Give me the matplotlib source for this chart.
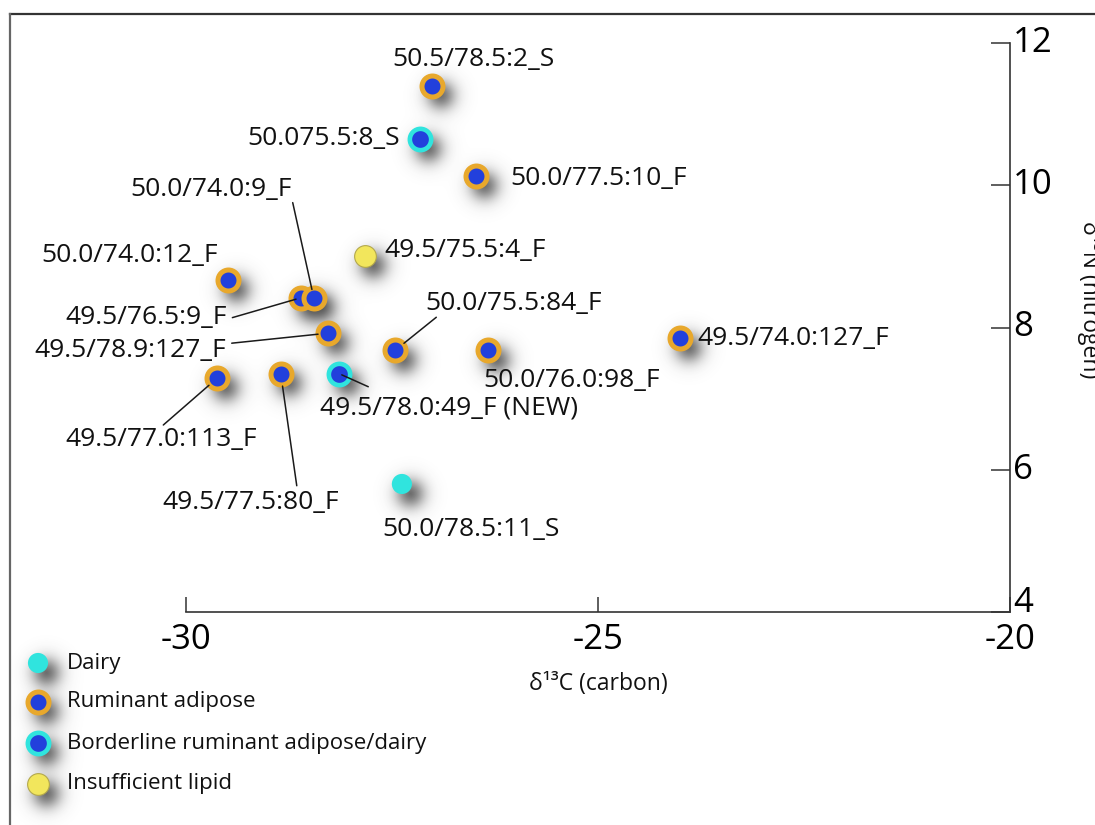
import matplotlib.pyplot as plt
import numpy as np

plt.rcParams["font.family"] = ["Open Sans", "DejaVu Sans"]

# isotope values per sample
sample_labels = [
    "50.5/78.5:2_S", "50.075.5:8_S", "50.0/77.5:10_F", "49.5/75.5:4_F",
    "50.0/74.0:12_F", "49.5/76.5:9_F", "50.0/74.0:9_F", "49.5/78.9:127_F",
    "50.0/75.5:84_F", "50.0/76.0:98_F", "49.5/74.0:127_F", "49.5/77.0:113_F",
    "49.5/77.5:80_F", "49.5/78.0:49_F (NEW)", "50.0/78.5:11_S",
]
carbon = [-27.01, -27.16, -26.48, -27.83, -29.49, -28.60, -28.45, -28.28,
          -27.46, -26.33, -24.00, -29.62, -28.85, -28.14, -27.38]
nitrogen = [11.40, 10.65, 10.13, 9.01, 8.67, 8.42, 8.42, 7.92,
            7.68, 7.68, 7.85, 7.29, 7.35, 7.35, 5.80]
groups = ["ruminant", "borderline", "ruminant", "lipid",
          "ruminant", "ruminant", "ruminant", "ruminant",
          "ruminant", "ruminant", "ruminant", "ruminant",
          "ruminant", "borderline", "dairy"]

legend_groups = ["dairy", "ruminant", "borderline", "lipid"]
legend_labels = ["Dairy", "Ruminant adipose",
                 "Borderline ruminant adipose/dairy", "Insufficient lipid"]

x_ticks = [-30, -25, -20]
y_ticks = [4, 6, 8, 10, 12]

# label placement: text offset (px), alignment, leader start offset (px), leader shrink (pt)
label_offsets = [(41, 26), (-20, 1), (34, -2), (20, 5), (-10, 24), (-75, -20),
                 (-22, 108), (-102, -17), (30, 47), (-5, -30), (17, 0),
                 (-152, -62), (-118, -129), (-19, -34), (-20, -46)]
label_ha = ["center", "right", "left", "left", "right", "right", "right", "right",
            "left", "left", "left", "left", "left", "left", "left"]
leaders = [None, None, None, None, None, ((-69, -20), 4), ((-21, 95), 6),
           ((-96, -10), 7), ((41, 33), 8), None, None, ((-54, -47), 8),
           ((16, -112), 9), ((29, -13), 2), None]

BLUE = "#2240DC"
ORANGE = "#E8A82C"
CYAN = "#30E4DE"
STYLE = {
    "ruminant": dict(s=228, c=BLUE, edgecolors=ORANGE, linewidths=3.6),
    "borderline": dict(s=235, c=BLUE, edgecolors=CYAN, linewidths=3.3),
    "dairy": dict(s=210, c=CYAN, edgecolors="none", linewidths=0),
    "lipid": dict(s=245, c="#F2E65C", edgecolors="#B3A84C", linewidths=0.8),
}

fig = plt.figure(figsize=(10.95, 8.25), dpi=100)
ax = fig.add_axes([186 / 1095, 1 - 612 / 825, 824 / 1095, 569 / 825])
ax.set_facecolor("none")
ax.set_xlim(-30, -20)
ax.set_ylim(4, 12)

for side in ["left", "top"]:
    ax.spines[side].set_visible(False)
ax.spines["bottom"].set_bounds(-30, -20)
ax.spines["right"].set_bounds(4, 12)
for side in ["bottom", "right"]:
    ax.spines[side].set_color("#333333")
    ax.spines[side].set_linewidth(1.2)

ax.set_xticks(x_ticks)
ax.set_xticklabels([str(v) for v in x_ticks])
ax.set_yticks(y_ticks)
ax.set_yticklabels([str(v) for v in y_ticks])
ax.yaxis.tick_right()
ax.tick_params(axis="x", direction="in", length=11, width=1.1, color="#333333",
               labelsize=25, pad=8)
ax.tick_params(axis="y", direction="in", length=14, width=1.1, color="#333333",
               labelsize=25, pad=2)
for lab, v in zip(ax.get_yticklabels(), y_ticks):
    # the bottom label sits on the axis line rather than centred on it
    lab.set_va("baseline" if v == 4 else "center")

for i, name in enumerate(sample_labels):
    ax.scatter([carbon[i]], [nitrogen[i]], zorder=3, **STYLE[groups[i]])
    ax.annotate(name, xy=(carbon[i], nitrogen[i]), xytext=label_offsets[i],
                textcoords="offset pixels", ha=label_ha[i], va="center",
                fontsize=19, color="#111111", zorder=4)
    if leaders[i] is not None:
        start, shrink = leaders[i]
        ax.annotate("", xy=(carbon[i], nitrogen[i]), xytext=start,
                    textcoords="offset pixels", zorder=4,
                    arrowprops=dict(arrowstyle="-", color="#1a1a1a", lw=1.1,
                                    shrinkA=0, shrinkB=shrink))

fig.text(598 / 1095, 1 - 684 / 825, "δ¹³C (carbon)", ha="center", va="center",
         fontsize=16.5, color="#111111")
fig.text(1077 / 1095, 1 - 300 / 825, "δ¹⁵N (nitrogen)", rotation=-90,
         ha="left", va="center", fontsize=16.5, color="#111111")

# overlay in pixel coordinates for the key and the outer frame
over = fig.add_axes([0, 0, 1, 1])
over.set_xlim(0, 1095)
over.set_ylim(825, 0)
over.axis("off")
over.set_facecolor("none")
key_y = [663, 702, 743, 784]
for g, text, y in zip(legend_groups, legend_labels, key_y):
    over.scatter([38], [y], zorder=3, **STYLE[g])
    over.text(67, y, text, ha="left", va="center", fontsize=16, color="#111111")
over.plot([10, 1095], [14, 14], color="#333333", lw=1.6)
over.plot([10, 10], [14, 825], color="#666666", lw=1.6)

# soft drop shadows under every marker
w, h = fig.canvas.get_width_height()
centers = list(ax.transData.transform(np.column_stack([carbon, nitrogen])))
centers += [over.transData.transform((38, y)) for y in key_y]
yy, xx = np.mgrid[0:h, 0:w]
alpha = np.zeros((h, w))
for cx, cy in centers:
    r = np.hypot(xx - cx - 8, yy - cy + 10)
    blob = 0.8 / (1 + np.exp((r - 11) / 5.0))
    alpha = 1 - (1 - alpha) * (1 - blob)
shade = np.zeros((h, w, 4))
shade[..., :3] = 0.2
shade[..., 3] = alpha
fig.figimage(shade, 0, 0, origin="lower", zorder=-1)

fig.savefig("out.png", dpi=100, facecolor="white")
